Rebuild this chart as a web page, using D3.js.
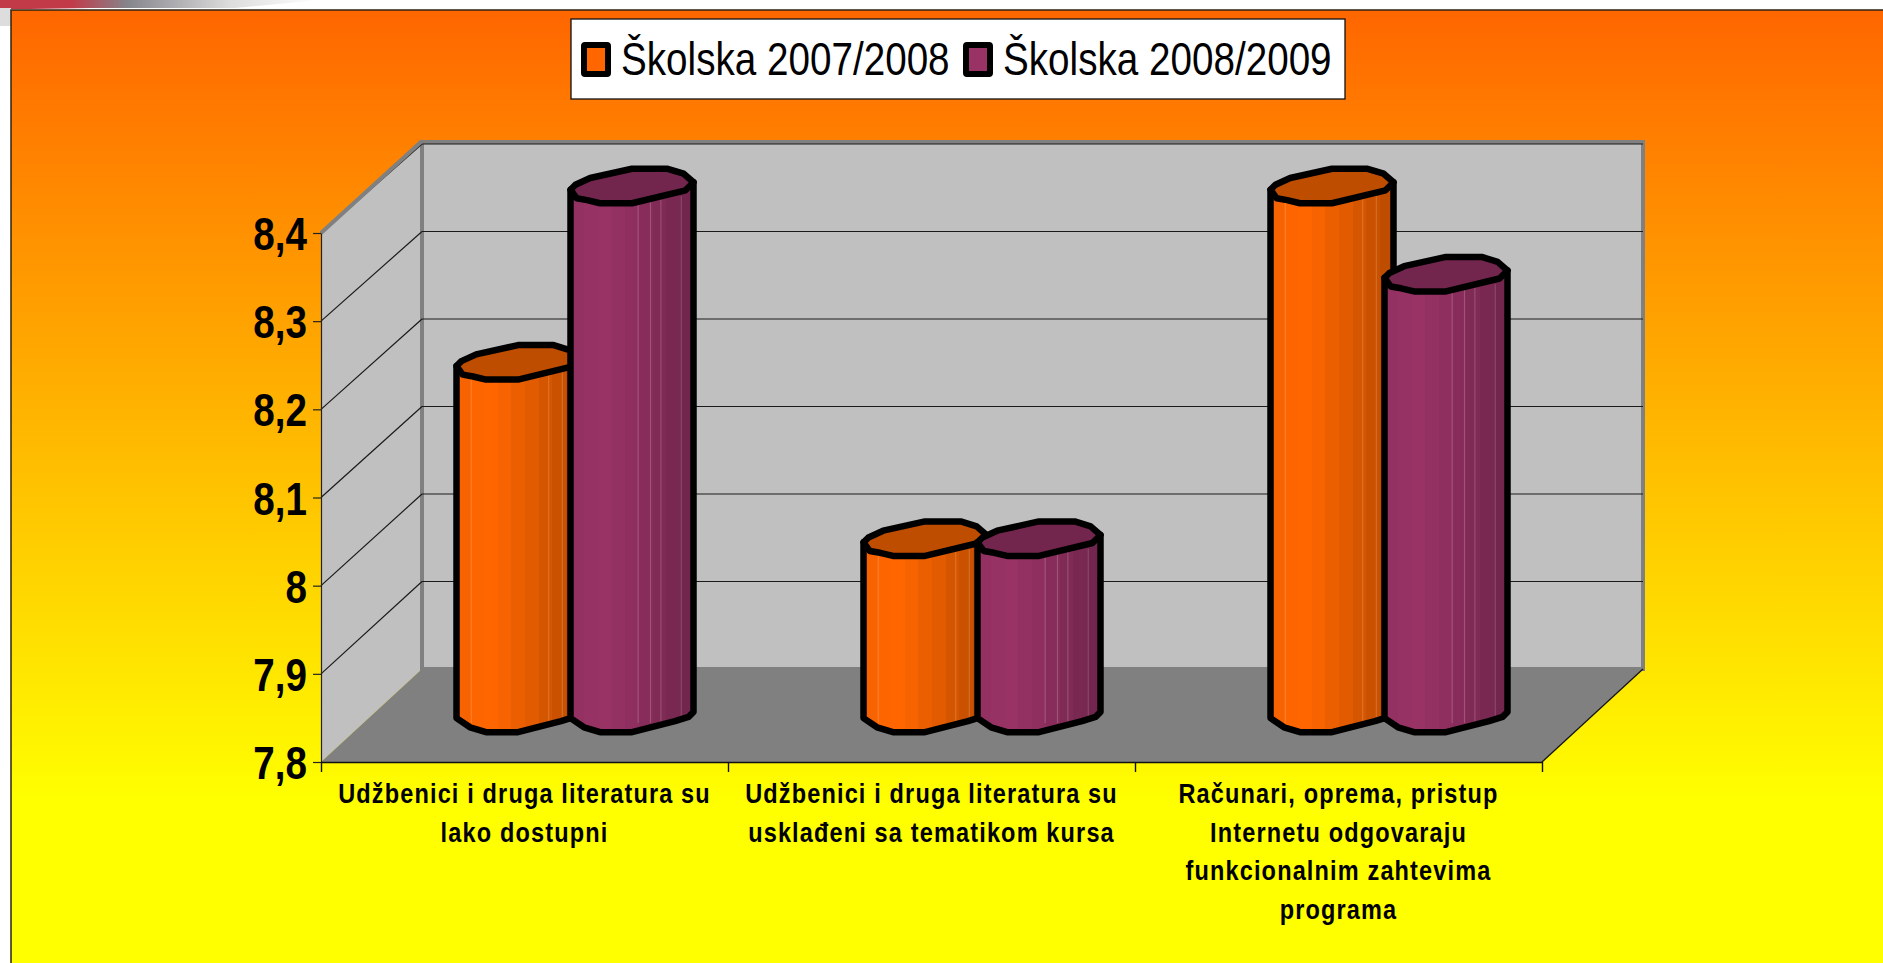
<!DOCTYPE html>
<html>
<head>
    <meta charset="utf-8">
    <script src="https://d3js.org/d3.v7.min.js"></script>
    <style>
        html, body { margin: 0; padding: 0; background: #fff; overflow: hidden; }
        text { font-family: "Liberation Sans", Arial, sans-serif; }
    </style>
</head>
<body>
    <div id="chart"></div>
    <script>
        // chart data
        const categories = ["c1", "c2", "c3"];
        const categoryLines = [
            ["Udžbenici i druga literatura su", "lako dostupni"],
            ["Udžbenici i druga literatura su", "usklađeni sa tematikom kursa"],
            ["Računari, oprema, pristup", "Internetu odgovaraju", "funkcionalnim zahtevima", "programa"]
        ];
        const seriesNames = ["Školska 2007/2008", "Školska 2008/2009"];
        const values2007 = [8.2, 8.0, 8.4];
        const values2008 = [8.4, 8.0, 8.3];
        const yTicks = [7.8, 7.9, 8, 8.1, 8.2, 8.3, 8.4];

        // colours per series: body left, body right / top face
        const lightColors = ["#ff6600", "#993366"];
        const darkColors = ["#bf4d00", "#73264d"];
        const bandMix = [0.12, 0.04, 0, 0.12, 0.3, 0.45, 0.65, 0.85, 1];
        const seams = [[-0.76, 0.5, 0.72], [0.1, 0.3, 0.47, 0.8]];

        // outline of the squashed cylinder, in units of half the bar width
        const topFace = [[-1, 0.06], [-0.92, -0.02], [-0.68, -0.13], [0, -0.28], [0.58, -0.28], [0.84, -0.2], [1, -0.06],
            [0.87, 0.07], [0, 0.28], [-0.52, 0.28], [-0.73, 0.23], [-0.9, 0.2]];
        const bottomEdge = [[1, -0.05], [0.92, 0.03], [0.7, 0.1], [0, 0.28], [-0.52, 0.28], [-0.78, 0.2], [-1, 0.05]];

        // layout constants
        const width = 1883, height = 963;
        const frontLeft = 321, frontRight = 1542, frontBottom = 762, frontTop = 233;
        const depthX = 101, backBottom = 669, backTop = 144;
        const barWidth = 123, barDepth = 47;

        const svg = d3.select("#chart").append("svg")
            .attr("width", width).attr("height", height);
        const defs = svg.append("defs");

        const bg = defs.append("linearGradient").attr("id", "bg")
            .attr("gradientUnits", "userSpaceOnUse")
            .attr("x1", 0).attr("y1", 10).attr("x2", 0).attr("y2", 800);
        bg.append("stop").attr("offset", 0).attr("stop-color", "#ff6600");
        bg.append("stop").attr("offset", 1).attr("stop-color", "#ffff00");

        const swoosh = defs.append("linearGradient").attr("id", "swoosh");
        [[0, "#c23a48"], [0.22, "#c23a48"], [0.4, "#85858c"], [0.72, "#dddddd"], [1, "#ffffff"]].forEach(s => {
            swoosh.append("stop").attr("offset", s[0]).attr("stop-color", s[1]);
        });

        // banded fill for the bar bodies
        lightColors.forEach((c, i) => {
            const grad = defs.append("linearGradient").attr("id", "body" + i);
            const mix = d3.interpolateRgb(c, darkColors[i]);
            bandMix.forEach((t, b) => {
                grad.append("stop").attr("offset", b / bandMix.length).attr("stop-color", mix(t));
                grad.append("stop").attr("offset", (b + 1) / bandMix.length).attr("stop-color", mix(t));
            });
        });

        // scales
        const y = d3.scaleLinear().domain([7.8, 8.4]).range([frontBottom, frontTop]);
        const yBack = d3.scaleLinear().domain([7.8, 8.4]).range([backBottom, backTop]);
        const xEdge = d3.scaleLinear().domain([0, categories.length]).range([frontLeft, frontRight]);
        const x0 = d3.scaleBand().domain(categories).range([frontLeft, frontRight]);
        const x1 = d3.scaleBand().domain([0, 1]).range([-114, 114]);

        // page furniture
        svg.append("path").attr("d", "M0 0H320L235 8L90 8L30 9H0Z").attr("fill", "url(#swoosh)");
        svg.append("rect").attr("x", 0).attr("y", 8).attr("width", 11).attr("height", 18).attr("fill", "#dddddd");
        svg.append("rect").attr("x", 11).attr("y", 10).attr("width", width).attr("height", height)
            .attr("fill", "url(#bg)").attr("stroke", "#2b2410").attr("stroke-width", 1.5);

        // walls and floor
        svg.append("path")
            .attr("d", `M${frontLeft} ${y(7.8)}L${frontLeft + depthX} ${yBack(7.8)}V${yBack(8.4)}L${frontLeft} ${y(8.4)}Z`)
            .attr("fill", "#c0c0c0");
        svg.append("rect")
            .attr("x", frontLeft + depthX).attr("y", yBack(8.4) - 2)
            .attr("width", frontRight - frontLeft).attr("height", yBack(7.8) - yBack(8.4) + 2)
            .attr("fill", "#c0c0c0").attr("stroke", "#808080").attr("stroke-width", 4);
        svg.append("path")
            .attr("d", `M${frontLeft} ${y(7.8)}H${frontRight}L${frontRight + depthX} ${yBack(7.8)}H${frontLeft + depthX}Z`)
            .attr("fill", "#808080");
        svg.append("path")
            .attr("d", `M${frontRight} ${y(7.8)}L${frontRight + depthX} ${yBack(7.8)}`)
            .attr("stroke", "#111").attr("stroke-width", 1.2);

        // gridlines
        svg.selectAll("line.gridBack").data(yTicks.slice(1)).enter().append("line")
            .attr("class", "gridBack")
            .attr("x1", frontLeft + depthX).attr("x2", frontRight + depthX)
            .attr("y1", d => yBack(d)).attr("y2", d => yBack(d))
            .attr("stroke", "#1a1a1a").attr("stroke-width", 1.2);
        svg.selectAll("line.gridSide").data(yTicks.slice(1)).enter().append("line")
            .attr("class", "gridSide")
            .attr("x1", frontLeft).attr("x2", frontLeft + depthX)
            .attr("y1", d => y(d)).attr("y2", d => yBack(d))
            .attr("stroke", "#1a1a1a").attr("stroke-width", 1.2);
        // grey top edge of the side wall sits over the last gridline
        svg.append("path")
            .attr("d", `M${frontLeft} ${y(8.4)}L${frontLeft + depthX} ${yBack(8.4) - 3}`)
            .attr("stroke", "#808080").attr("stroke-width", 4).attr("fill", "none");

        // axes
        const yAxis = svg.append("g").attr("transform", `translate(${frontLeft},0)`)
            .call(d3.axisLeft(y).tickValues(yTicks).tickSize(8).tickSizeOuter(0)
                .tickFormat(d => String(d).replace(".", ",")));
        yAxis.selectAll("path,line").attr("stroke", "#222").attr("stroke-width", 1.2);
        yAxis.selectAll("text")
            .attr("x", 0).attr("dy", "0.36em")
            .attr("transform", "translate(-14,0) scale(0.84,1)")
            .attr("font-size", 46).attr("font-weight", "bold").attr("fill", "#000")
            .style("font-family", '"Liberation Sans", Arial, sans-serif');

        const xAxis = svg.append("g").attr("transform", `translate(0,${frontBottom})`)
            .call(d3.axisBottom(xEdge).tickValues(d3.range(categories.length + 1)).tickSize(10).tickSizeOuter(0).tickFormat(""));
        xAxis.selectAll("path,line").attr("stroke", "#111").attr("stroke-width", 1.4);

        // category labels
        categoryLines.forEach((lines, i) => {
            svg.selectAll("text.cat" + i).data(lines).enter().append("text")
                .attr("class", "cat" + i)
                .attr("text-anchor", "middle")
                .attr("transform", (d, j) => `translate(${x0(categories[i]) + x0.bandwidth() / 2},${803 + j * 38.5}) scale(0.84,1)`)
                .attr("font-size", 28).attr("font-weight", "bold")
                .attr("letter-spacing", 1.37)
                .text(d => d);
        });

        // bars
        const shapeLine = d3.line();
        const seriesValues = [values2007, values2008];
        categories.forEach((cat, c) => {
            seriesValues.forEach((vals, s) => {
                const cx = x0(cat) + x0.bandwidth() / 2 + depthX / 2 + x1(s) + x1.bandwidth() / 2;
                const topY = y(vals[c]) - barDepth;
                const baseY = y(7.8) - barDepth;
                const hw = barWidth / 2;
                const g = svg.append("g").attr("class", "bar");

                const bottomPts = bottomEdge.map(p => [cx + p[0] * hw, baseY + p[1] * hw]);
                const bodyPts = [[cx - hw, topY + 0.06 * hw], [cx + hw, topY - 0.06 * hw]].concat(bottomPts);
                g.append("path").attr("d", shapeLine(bodyPts) + "Z")
                    .attr("fill", "url(#body" + s + ")");
                g.selectAll("line").data(seams[s]).enter().append("line")
                    .attr("x1", d => cx + d * hw).attr("x2", d => cx + d * hw)
                    .attr("y1", topY + 10).attr("y2", baseY + 8)
                    .attr("stroke", "#fff").attr("stroke-opacity", 0.2).attr("stroke-width", 1);
                g.append("path").attr("d", shapeLine(bodyPts) + "Z")
                    .attr("fill", "none").attr("stroke", "#000").attr("stroke-width", 6.5)
                    .attr("stroke-linejoin", "round");
                g.append("path")
                    .attr("d", shapeLine(topFace.map(p => [cx + p[0] * hw, topY + p[1] * hw])) + "Z")
                    .attr("fill", darkColors[s]).attr("stroke", "#000").attr("stroke-width", 6.5)
                    .attr("stroke-linejoin", "round");
            });
        });

        // legend
        svg.append("rect").attr("x", 571).attr("y", 19).attr("width", 774).attr("height", 80)
            .attr("fill", "#fff").attr("stroke", "#111").attr("stroke-width", 1.3);
        const legendX = [584, 966];
        seriesNames.forEach((name, i) => {
            svg.append("rect").attr("x", legendX[i]).attr("y", 45).attr("width", 24).attr("height", 29).attr("rx", 1)
                .attr("fill", lightColors[i]).attr("stroke", "#000").attr("stroke-width", 6)
                .attr("stroke-linejoin", "round");
            svg.append("text")
                .attr("transform", `translate(${legendX[i] + 37},75) scale(0.84,1)`)
                .attr("font-size", 46).attr("fill", "#000")
                .text(name);
        });
    </script>
</body>
</html>
